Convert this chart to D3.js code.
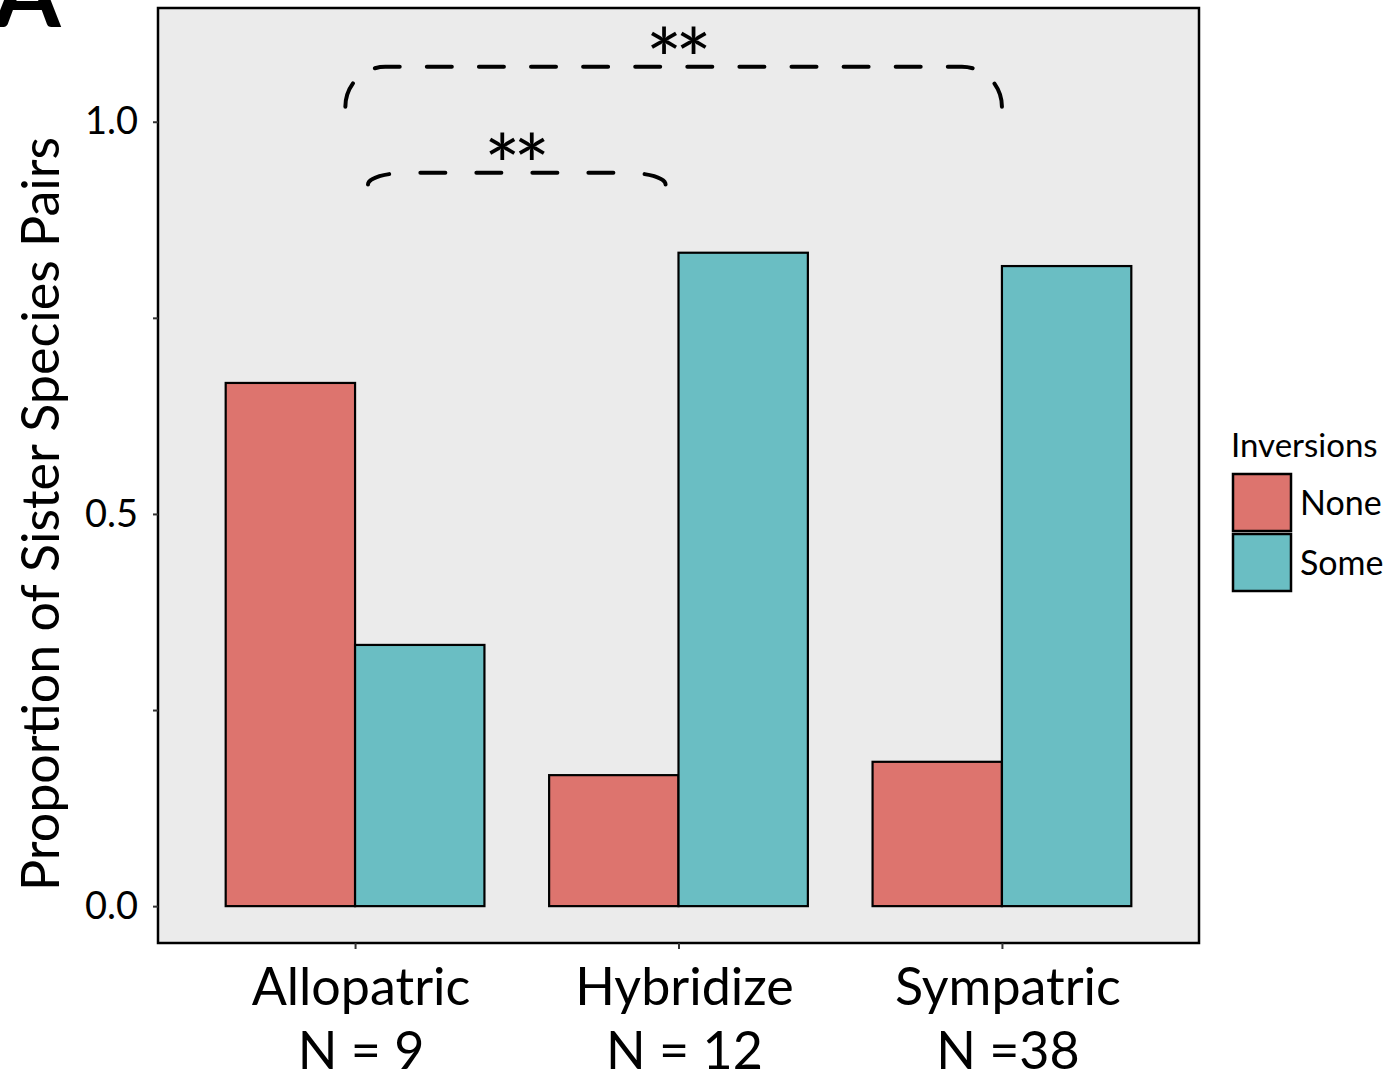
<!DOCTYPE html>
<html>
<head>
<meta charset="utf-8">
<script src="https://cdn.jsdelivr.net/npm/d3@7"></script>
<style>
  body { margin: 0; background: #fff; }
  text { font-family: Lato, "Open Sans", sans-serif; fill: #000; }
</style>
</head>
<body>
<div id="chart"></div>
<script>
// categories and series
const categories = ['Allopatric', 'Hybridize', 'Sympatric'];
const sampleSizes = ['N = 9', 'N = 12', 'N =38'];
const groups = ['None', 'Some'];
const noneValues = [0.667, 0.167, 0.184];
const someValues = [0.333, 0.833, 0.816];
const yTicks = [0, 0.5, 1.0];
const yMinorTicks = [0.25, 0.75];
const colors = { None: '#DD746E', Some: '#6ABEC3' };

// significance brackets (category positions and heights in data units)
const brackets = [
  { from: 0.97, to: 3.0, low: 1.019, high: 1.07, labelAt: 1.99, label: '**' },
  { from: 1.04, to: 1.96, low: 0.92, high: 0.935, labelAt: 1.49, label: '**' },
];

const data = [];
categories.forEach((c, i) => {
  data.push({ cat: i + 1, group: 'None', value: noneValues[i] });
  data.push({ cat: i + 1, group: 'Some', value: someValues[i] });
});

// set the dimensions of the panel
const W = 1393;
const H = 1079;
const panel = { left: 158, right: 1199, top: 8, bottom: 943 };

const svg = d3.select('#chart')
  .append('svg')
  .attr('width', W)
  .attr('height', H);

svg.append('rect').attr('width', W).attr('height', H).attr('fill', '#fff');

// scales: discrete positions on a continuous axis, like ggplot
const x = d3.scaleLinear()
  .domain([0.4, 3.6])
  .range([161, 1196]);

const y = d3.scaleLinear()
  .domain([-0.047, 1.145])
  .range([panel.bottom, panel.top]);

const barWidth = 0.8; // dodge width in category units

// panel background
svg.append('rect')
  .attr('x', panel.left)
  .attr('y', panel.top)
  .attr('width', panel.right - panel.left)
  .attr('height', panel.bottom - panel.top)
  .attr('fill', '#EBEBEB');

// bars
svg.selectAll('.bar')
  .data(data)
  .enter()
  .append('rect')
  .attr('class', 'bar')
  .attr('x', d => x(d.cat - barWidth / 2 + (d.group === 'Some' ? barWidth / 2 : 0)))
  .attr('width', x(barWidth / 2) - x(0))
  .attr('y', d => y(d.value))
  .attr('height', d => y(0) - y(d.value))
  .attr('fill', d => colors[d.group])
  .attr('stroke', '#000')
  .attr('stroke-width', 2.2);

// brackets: rounded corners drawn as quarter ellipses
const bracketPath = (b) => {
  const x0 = x(b.from);
  const x1 = x(b.to);
  const yl = y(b.low);
  const yh = y(b.high);
  const rx = 40;
  const ry = yl - yh;
  return `M${x0},${yl} A${rx},${ry} 0 0 1 ${x0 + rx},${yh} `
    + `L${x1 - rx},${yh} A${rx},${ry} 0 0 1 ${x1},${yl}`;
};

svg.selectAll('.bracket')
  .data(brackets)
  .enter()
  .append('path')
  .attr('class', 'bracket')
  .attr('d', bracketPath)
  .attr('fill', 'none')
  .attr('stroke', '#000')
  .attr('stroke-width', 4)
  .attr('stroke-linecap', 'round')
  .each(function () {
    // fit the dash pattern so it starts and ends with a dash
    const len = this.getTotalLength();
    const dash = 25;
    const n = Math.round((len + 27) / (dash + 27));
    const gap = (len - n * dash) / (n - 1);
    d3.select(this).attr('stroke-dasharray', `${dash} ${gap}`);
  });

svg.selectAll('.star')
  .data(brackets)
  .enter()
  .append('text')
  .attr('x', b => x(b.labelAt))
  .attr('y', b => y(b.high) + 24)
  .attr('text-anchor', 'middle')
  .attr('font-size', 86)
  .attr('letter-spacing', -7)
  .text(b => b.label);

// panel border
svg.append('rect')
  .attr('x', panel.left)
  .attr('y', panel.top)
  .attr('width', panel.right - panel.left)
  .attr('height', panel.bottom - panel.top)
  .attr('fill', 'none')
  .attr('stroke', '#000')
  .attr('stroke-width', 2.5);

// y axis
const yAxis = svg.append('g')
  .attr('transform', `translate(${panel.left},0)`)
  .call(d3.axisLeft(y)
    .tickValues(yTicks.concat(yMinorTicks))
    .tickSize(5)
    .tickPadding(15)
    .tickFormat(d => (yTicks.includes(d) ? d3.format('.1f')(d) : '')));
yAxis.select('.domain').remove();
yAxis.selectAll('line').attr('stroke', '#333').attr('stroke-width', 2);
yAxis.selectAll('text')
  .attr('font-size', 38)
  .attr('font-family', 'Lato, sans-serif')
  .attr('fill', '#000');

// x axis
const xAxis = svg.append('g')
  .attr('transform', `translate(0,${panel.bottom})`)
  .call(d3.axisBottom(x)
    .tickValues([1, 2, 3])
    .tickSize(6)
    .tickFormat(''));
xAxis.select('.domain').remove();
xAxis.selectAll('line').attr('stroke', '#333').attr('stroke-width', 2);

const labelShift = 6;
const xLabels = svg.selectAll('.xlab')
  .data(categories)
  .enter()
  .append('text')
  .attr('text-anchor', 'middle')
  .attr('font-size', 52);
xLabels.append('tspan').attr('x', (d, i) => x(i + 1) + labelShift).attr('y', 1005).text(d => d);
xLabels.append('tspan').attr('x', (d, i) => x(i + 1) + labelShift).attr('y', 1069).text((d, i) => sampleSizes[i]);

// y title
svg.append('text')
  .attr('transform', `translate(59,${(y(0) + y(1)) / 2}) rotate(-90)`)
  .attr('text-anchor', 'middle')
  .attr('font-size', 52)
  .text('Proportion of Sister Species Pairs');

// panel tag
svg.append('text')
  .attr('x', -6)
  .attr('y', 27)
  .attr('font-size', 96)
  .attr('font-weight', 'bold')
  .text('A');

// legend
const legend = svg.append('g').attr('transform', 'translate(1231,0)');
legend.append('text')
  .attr('x', 0)
  .attr('y', 457)
  .attr('font-size', 33)
  .text('Inversions');
const keys = legend.selectAll('.key')
  .data(groups)
  .enter()
  .append('g')
  .attr('transform', (d, i) => `translate(2,${474 + i * 60})`);
keys.append('rect')
  .attr('width', 58)
  .attr('height', 57)
  .attr('fill', d => colors[d])
  .attr('stroke', '#000')
  .attr('stroke-width', 2.5);
keys.append('text')
  .attr('x', 67)
  .attr('y', 41)
  .attr('font-size', 34)
  .text(d => d);
</script>
</body>
</html>
